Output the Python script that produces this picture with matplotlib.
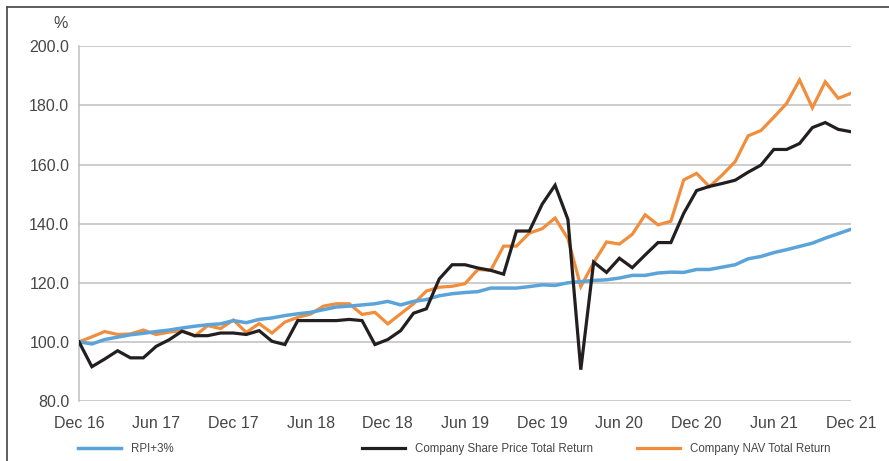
import matplotlib
matplotlib.use("Agg")
import matplotlib.pyplot as plt
from matplotlib.lines import Line2D

plt.rcParams['font.family'] = ['Liberation Sans', 'DejaVu Sans']

months = list(range(61))
tick_months = [0, 6, 12, 18, 24, 30, 36, 42, 48, 54, 60]
tick_labels = ["Dec 16", "Jun 17", "Dec 17", "Jun 18", "Dec 18", "Jun 19",
               "Dec 19", "Jun 20", "Dec 20", "Jun 21", "Dec 21"]
y_ticks = [80, 100, 120, 140, 160, 180, 200]

rpi = [100.0, 99.3, 100.8, 101.6, 102.4, 102.9, 103.5, 104.0, 104.7, 105.3,
       105.8, 106.1, 107.2, 106.5, 107.6, 108.1, 108.9, 109.5, 110.0, 110.9,
       111.8, 112.1, 112.5, 112.9, 113.7, 112.5, 113.7, 114.3, 115.6, 116.3,
       116.7, 117.0, 118.2, 118.2, 118.2, 118.7, 119.3, 119.1, 120.0, 120.4,
       120.8, 121.0, 121.6, 122.5, 122.5, 123.3, 123.6, 123.5, 124.5, 124.5,
       125.3, 126.1, 128.1, 128.9, 130.2, 131.2, 132.3, 133.4, 135.1, 136.6,
       138.1]

share_price = [100.0, 91.6, 94.2, 97.0, 94.6, 94.6, 98.5, 100.7, 103.6, 102.1,
               102.1, 103.0, 103.0, 102.5, 103.8, 100.2, 99.1, 107.2, 107.2, 107.2,
               107.2, 107.6, 107.2, 99.1, 100.8, 103.8, 109.7, 111.2, 121.3, 126.1,
               126.1, 125.0, 124.2, 122.9, 137.5, 137.5, 146.6, 153.0, 141.4, 90.6,
               127.0, 123.5, 128.3, 125.1, 129.4, 133.6, 133.6, 143.5, 151.2, 152.6,
               153.6, 154.7, 157.4, 159.8, 165.1, 165.1, 167.1, 172.5, 174.2, 171.9,
               171.1]

nav = [100.0, 101.7, 103.5, 102.5, 102.7, 104.0, 102.5, 103.3, 103.8, 102.0,
       105.5, 104.5, 107.4, 103.2, 106.2, 103.0, 106.7, 108.3, 109.4, 112.1,
       112.9, 112.9, 109.3, 110.0, 106.1, 109.5, 112.9, 117.2, 118.5, 118.8,
       119.7, 124.5, 124.2, 132.4, 132.4, 136.8, 138.3, 141.9, 134.9, 118.7,
       126.8, 133.8, 133.1, 136.4, 143.0, 139.6, 140.8, 154.8, 157.0, 152.5,
       156.5, 161.0, 169.7, 171.5, 176.0, 180.7, 188.6, 179.2, 188.0, 182.4,
       184.1]

series_names = ["RPI+3%", "Company Share Price Total Return", "Company NAV Total Return"]

c_blue = "#5BA4DA"
c_black = "#231F20"
c_orange = "#F18D3B"
txt_col = "#464646"
grid_col = "#BEBEBE"

fig = plt.figure(figsize=(8.89, 4.61), dpi=100)
ax = fig.add_axes([79/889, 1-401/461, (851-79)/889, (401-46.3)/461])

l_nav, = ax.plot(months, nav, color=c_orange, lw=2.3, zorder=3, solid_joinstyle='miter')
l_rpi, = ax.plot(months, rpi, color=c_blue, lw=2.5, zorder=4)
l_sp, = ax.plot(months, share_price, color=c_black, lw=2.3, zorder=5, solid_joinstyle='miter')

ax.set_xlim(0, 60)
ax.set_ylim(80, 200)
ax.set_yticks(y_ticks)
ax.set_yticklabels([f"{v:.1f}" for v in y_ticks])
ax.set_xticks(tick_months)
ax.set_xticklabels(tick_labels)
ax.tick_params(axis='both', length=0, labelsize=11.5, colors=txt_col)
ax.tick_params(axis='y', pad=7)
ax.tick_params(axis='x', pad=11)
ax.yaxis.grid(True, color=grid_col, lw=1.1)
ax.set_axisbelow(True)
for s in ['top', 'right', 'bottom']:
    ax.spines[s].set_visible(False)
ax.spines['left'].set_color(grid_col)
ax.spines['left'].set_linewidth(1.1)

fig.text(61/889, 1-24/461, "%", ha='center', va='center', fontsize=11.5, color=txt_col)

# frame lines
fig.add_artist(Line2D([7/889, 7/889], [0, 1-7/461], color="#505050", lw=1.3, transform=fig.transFigure))
fig.add_artist(Line2D([7/889, 1], [1-7/461, 1-7/461], color="#505050", lw=1.3, transform=fig.transFigure))

fs_leg = 8.3
for handle, name, xpx in [(l_rpi, series_names[0], 78), (l_sp, series_names[1], 362), (l_nav, series_names[2], 637)]:
    fig.legend(handles=[handle], labels=[name], loc='center left',
               bbox_to_anchor=(xpx/889, 1-449/461), frameon=False,
               fontsize=fs_leg, handlelength=3.75, handletextpad=0.85,
               borderpad=0, borderaxespad=0, labelcolor=txt_col)

fig.savefig("out.png", dpi=100)
